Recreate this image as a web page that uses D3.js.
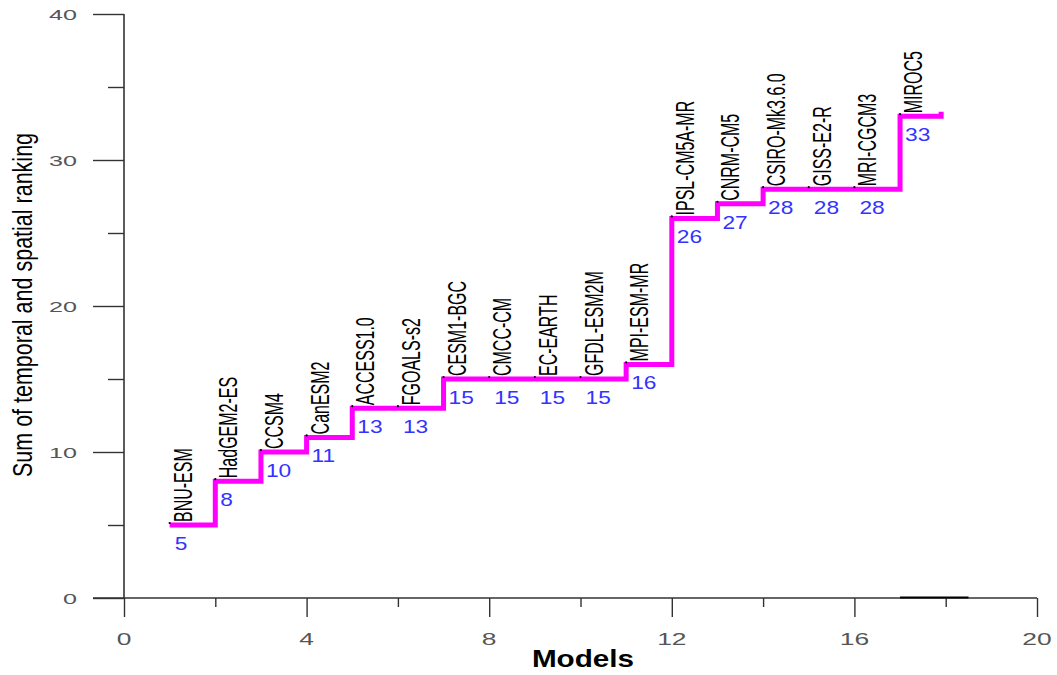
<!DOCTYPE html>
<html>
<head>
<meta charset="utf-8">
<script src="https://cdn.jsdelivr.net/npm/d3@7/dist/d3.min.js"></script>
<style>
  html, body { margin: 0; padding: 0; background: #fff; }
  svg { display: block; font-family: "Liberation Sans", Arial, sans-serif; }
</style>
</head>
<body>
<svg id="chart" width="1057" height="675"></svg>
<script>
// ---- data ----
const models = ["BNU-ESM","HadGEM2-ES","CCSM4","CanESM2","ACCESS1.0","FGOALS-s2",
  "CESM1-BGC","CMCC-CM","EC-EARTH","GFDL-ESM2M","MPI-ESM-MR","IPSL-CM5A-MR",
  "CNRM-CM5","CSIRO-Mk3.6.0","GISS-E2-R","MRI-CGCM3","MIROC5"];
const positions = [1,2,3,4,5,6,7,8,9,10,11,12,13,14,15,16,17];
const scores = [5,8,10,11,13,13,15,15,15,15,16,26,27,28,28,28,33];
const tailX = [17.9];          // end of the last step
const tailY = [33.3];
const baseSegX = [17, 18.5];  // short dark segment on the x axis
const xTicksMajor = [0,4,8,12,16,20];
const xTicksMinor = [2,6,10,14,18];
const yTicksMajor = [0,10,20,30,40];
const yTicksMinor = [5,15,25,35];

// ---- layout ----
const svg = d3.select("#chart");
const x = d3.scaleLinear().domain([0, 20]).range([124, 1037]);
const y = d3.scaleLinear().domain([0, 40]).range([598, 14]);
const axisColor = "#333";

// y axis: major + minor ticks
const yMajor = svg.append("g").attr("transform", `translate(${x(0)},0)`)
  .call(d3.axisLeft(y).tickValues(yTicksMajor).tickSize(31).tickFormat(""));
const yMinor = svg.append("g").attr("transform", `translate(${x(0)},0)`)
  .call(d3.axisLeft(y).tickValues(yTicksMinor).tickSize(16).tickFormat(""));
[yMajor, yMinor].forEach(g => {
  g.select(".domain").remove();
  g.selectAll("line").attr("stroke", axisColor).attr("stroke-width", 1.4);
});
svg.append("line").attr("x1", x(0)).attr("x2", x(0))
  .attr("y1", y(40)).attr("y2", y(0))
  .attr("stroke", axisColor).attr("stroke-width", 1.6);

// x axis
const xMajor = svg.append("g").attr("transform", `translate(0,${y(0)})`)
  .call(d3.axisBottom(x).tickValues(xTicksMajor).tickSize(19).tickFormat(""));
const xMinor = svg.append("g").attr("transform", `translate(0,${y(0)})`)
  .call(d3.axisBottom(x).tickValues(xTicksMinor).tickSize(9).tickFormat(""));
[xMajor, xMinor].forEach(g => {
  g.select(".domain").remove();
  g.selectAll("line").attr("stroke", axisColor).attr("stroke-width", 1.4);
});
svg.append("line").attr("x1", x(0) - 31).attr("x2", x(20))
  .attr("y1", y(0)).attr("y2", y(0))
  .attr("stroke", axisColor).attr("stroke-width", 1.4);
svg.append("line").attr("x1", x(baseSegX[0])).attr("x2", x(baseSegX[1]))
  .attr("y1", y(0) - 0.5).attr("y2", y(0) - 0.5)
  .attr("stroke", "#000").attr("stroke-width", 2);

// tick labels (stretched horizontally like the reference)
svg.append("g").selectAll("text").data(yTicksMajor).join("text")
  .attr("transform", d => `translate(77,${y(d) + 5.5}) scale(1.62,1)`)
  .attr("text-anchor", "end").attr("font-size", 15.5).attr("fill", "#555")
  .text(d => d);
svg.append("g").selectAll("text").data(xTicksMajor).join("text")
  .attr("transform", d => `translate(${x(d)},645) scale(1.6,1)`)
  .attr("text-anchor", "middle").attr("font-size", 16.5).attr("fill", "#555")
  .text(d => d);

// axis titles
svg.append("text")
  .attr("transform", "translate(583,667) scale(1.29,1)")
  .attr("text-anchor", "middle").attr("font-size", 23).attr("font-weight", "bold")
  .attr("fill", "#000").text("Models");
svg.append("text")
  .attr("transform", "translate(32,305) scale(1.25,1) rotate(-90)")
  .attr("text-anchor", "middle").attr("font-size", 21.5).attr("fill", "#000")
  .text("Sum of temporal and spatial ranking");

// step line
const pts = positions.map((p, i) => [p, scores[i]]).concat([[tailX[0], tailY[0]]]);
const line = d3.line().x(d => x(d[0])).y(d => y(d[1])).curve(d3.curveStepAfter);
svg.append("path").datum(pts).attr("d", line)
  .attr("fill", "none").attr("stroke", "#ff00ff").attr("stroke-width", 5)
  .attr("stroke-linejoin", "miter").attr("stroke-linecap", "butt");

// small black point markers
svg.append("g").selectAll("circle").data(positions).join("circle")
  .attr("cx", d => x(d)).attr("cy", (d, i) => y(scores[i]) - 2)
  .attr("r", 1.1).attr("fill", "#000");

// model names (rotated)
svg.append("g").selectAll("text").data(models).join("text")
  .attr("transform", (d, i) => `translate(${x(positions[i]) + 22},${y(scores[i]) - 3}) scale(1.6,1) rotate(-90)`)
  .attr("font-size", 16).attr("fill", "#000")
  .text(d => d);

// value labels
svg.append("g").selectAll("text").data(scores).join("text")
  .attr("transform", (d, i) => `translate(${x(positions[i]) + 5},${y(d) + 25}) scale(1.3,1)`)
  .attr("font-size", 17.5).attr("fill", "#3333ff")
  .text(d => d);
</script>
</body>
</html>
